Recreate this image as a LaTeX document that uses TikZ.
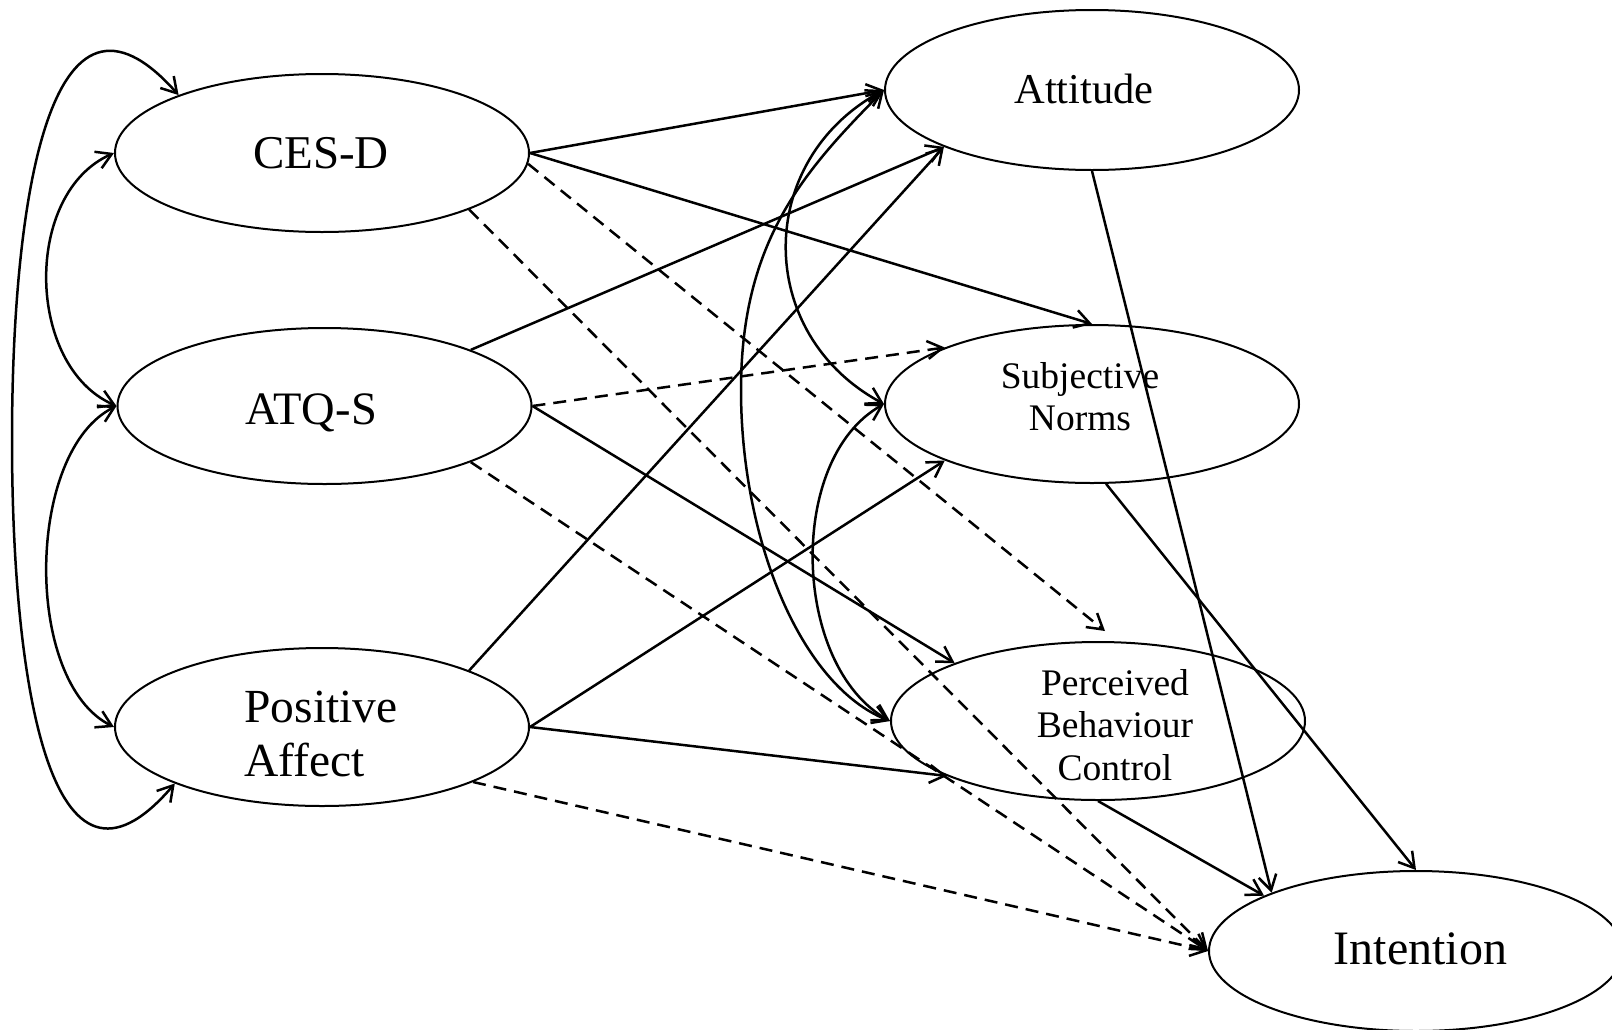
\documentclass[tikz,border=0pt]{standalone}
\usepackage{fontspec}
\setmainfont{Liberation Serif}
\usetikzlibrary{shapes.geometric,arrows.meta}

\begin{document}
\begin{tikzpicture}[x=1pt,y=-1pt,
  latent/.style={draw, ellipse, line width=2pt, minimum width=414pt,
                 minimum height=158pt, inner sep=0pt},
  lbl/.style={inner sep=0pt, align=center},
  effect/.style={line width=2.5pt, -{Straight Barb[length=15pt,width=18pt]}},
  nseffect/.style={effect, dash pattern=on 13pt off 8pt},
  cov/.style={line width=2.5pt,
              {Straight Barb[length=15pt,width=18pt]}-{Straight Barb[length=15pt,width=18pt]}},
]
\useasboundingbox (0,0) rectangle (1612,1029);

% latent variables
\node[latent] (cesd) at (322,153) {};
\node[latent, minimum height=156pt] (atqs) at (324.5,406) {};
\node[latent] (pa) at (322,727) {};
\node[latent, minimum height=160pt] (att) at (1092,90) {};
\node[latent] (sn) at (1092,404) {};
\node[latent] (pbc) at (1098,721) {};
\node[latent, minimum height=160pt] (int) at (1416,951) {};

% labels
\node[lbl, anchor=base, font=\fontsize{47}{54}\selectfont] (cesd-t) at (321,168) {CES-D};
\node[lbl, anchor=base, font=\fontsize{46.5}{54}\selectfont] (atqs-t) at (311,424) {ATQ-S};
\node[lbl, align=left, font=\fontsize{47.5}{54}\selectfont] (pa-t) at (321,734) {Positive\\Affect};
\node[lbl, anchor=base, font=\fontsize{42.5}{50}\selectfont] (att-t) at (1084,103) {Attitude};
\node[lbl, font=\fontsize{37.5}{42}\selectfont] (sn-t) at (1080,396.5) {Subjective\\Norms};
\node[lbl, font=\fontsize{37.5}{42.5}\selectfont] (pbc-t) at (1115,725) {Perceived\\Behaviour\\Control};
\node[lbl, anchor=base, font=\fontsize{48}{56}\selectfont] (int-t) at (1420.5,964) {Intention};

% covariances among the predictors
\coordinate (loopleft) at (12,440);
\draw[cov] (cesd.west) .. controls +(-91,40) and +(-91,-40) .. (atqs.west);
\draw[cov] (atqs.west) .. controls +(-91,45) and +(-91,-45) .. (pa.west);
\draw[cov] (cesd.158.5) .. controls (50,-50) and (12,200) .. (loopleft)
                        .. controls (12,680) and (50,930) .. (pa.201.1);

% covariances among the attitude components
\coordinate (arcleft) at (741,390);
\draw[cov] (att.west) .. controls +(-130,70) and +(-130,-70) .. (sn.west);
\draw[cov] (sn.west) .. controls +(-98,55) and +(-98,-55) .. (pbc.west);
\draw[cov] (att.west) .. controls (805,170) and (741,240) .. (arcleft)
                      .. controls (741,540) and (801,686) .. (pbc.west);

% significant paths
\draw[effect] (cesd.east) -- (att.west);
\draw[effect] (cesd.east) -- (sn.north);
\draw[effect] (atqs.21.5) -- (att.201);
\draw[effect] (atqs.east) -- (pbc.158.3);
\draw[effect] (pa.21.7) -- (att.201);
\draw[effect] (pa.east) -- (sn.201.6);
\draw[effect] (pa.east) -- (pbc.200.7);
\draw[effect] (att.south) -- (int.158.5);
\draw[effect] (sn.-80) -- (int.north);
\draw[effect] (pbc.south) -- (int.160);

% non-significant paths
\draw[nseffect] (cesd.-3) -- ([shift={(7,-10)}]pbc.north);
\draw[nseffect] (cesd.-21.7) -- (int.west);
\draw[nseffect] (atqs.east) -- (sn.159.4);
\draw[nseffect] (atqs.-21.8) -- (int.west);
\draw[nseffect] (pa.-20.7) -- (int.west);
\end{tikzpicture}
\end{document}
